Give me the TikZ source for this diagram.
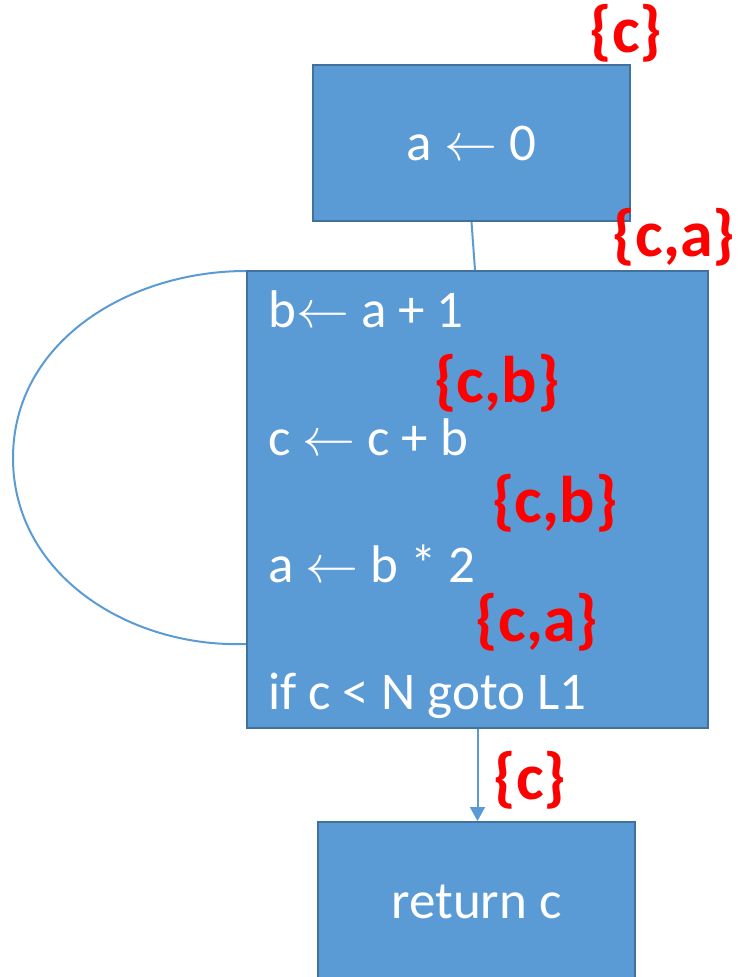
\documentclass[tikz,border=0pt]{standalone}
\usepackage{fix-cm}
\usepackage{fontspec}
\setmainfont{Carlito}
\usepackage{tikz}
\usetikzlibrary{arrows.meta,positioning,calc}
\definecolor{boxblue}{HTML}{5B9BD5}
\definecolor{boxedge}{HTML}{41719C}
\definecolor{livered}{HTML}{FF0000}
\newcommand{\larr}{\ensuremath{\leftarrow}}

\begin{document}
\begin{tikzpicture}[
  x=1pt, y=-1pt,
  blk/.style={draw=boxedge, line width=2pt, fill=boxblue, text=white, inner sep=0pt, font=\fontsize{53}{60}\selectfont},
  txt/.style={anchor=base west, inner sep=0pt, text=white, font=\fontsize{53}{60}\selectfont},
  live/.style={inner sep=0pt, text=livered, font=\fontsize{66}{72}\selectfont\bfseries},
  wire/.style={draw=boxblue, line width=2pt}
]
\clip (0,0) rectangle (738,977);

\node[blk, minimum width=317pt, minimum height=156pt] (init) at (471.5,143) {a \larr{} 0};
\node[blk, minimum width=461pt, minimum height=457pt] (body) at (477.5,499.5) {};
\node[blk, minimum width=317pt, minimum height=160pt] (ret) at (476.5,902) {return c};

% statements of the loop body, left aligned
\node[txt] (s1) at (268,327) {b\larr{} a + 1};
\node[txt] (s2) at (268,455) {c \larr{} c + b};
\node[txt] (s3) at (268,582) {a \larr{} b * 2};
\node[txt] (s4) at (268,709) {if c < N goto L1};

% live sets
\node[live] (l0) at (626,33)  {\{c\}};
\node[live] (l1) at (674,237) {\{c,a\}};
\node[live] (l2) at (497,383) {\{c,b\}};
\node[live] (l3) at (555,503) {\{c,b\}};
\node[live] (l4) at (537,622) {\{c,a\}};
\node[live] (l5) at (530,780) {\{c\}};

% edges
\draw[wire] (init.south) -- ([xshift=-2.5pt]body.north);
\draw[wire, -{Triangle[width=15pt,length=14pt]}] (body.south) -- (body.south |- ret.north);

% back edge -- leaves low on the left side, returns at the top corner
\coordinate (loopS) at ($(body.south west)+(0,-85)$);
\coordinate (loopW) at (13,458);
\coordinate (loopE) at ($(body.north west)+(0,1)$);
\draw[wire] (loopS) to[out=182,in=270] (loopW) to[out=90,in=180] (loopE);
\end{tikzpicture}
\end{document}
